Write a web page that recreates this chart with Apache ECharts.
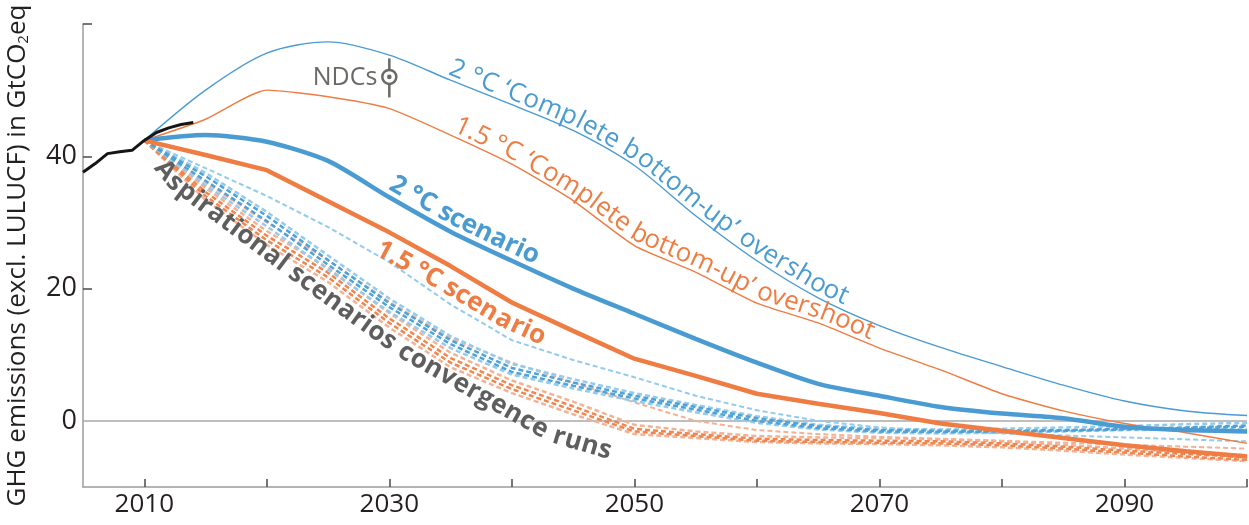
<!DOCTYPE html>
<html><head><meta charset="utf-8">
<script src="https://cdn.jsdelivr.net/npm/echarts@6/dist/echarts.min.js"></script>
<style>html,body{margin:0;padding:0;background:#fff}#c{width:1249px;height:525px}</style>
</head><body><div id="c"></div>
<script>
// ---------------- data ----------------
const years = [2010,2015,2020,2025,2030,2035,2040,2045,2050,2055,2060,2065,2070,2075,2080,2085,2090,2095,2100];
const histYears  = [2005,2006,2007,2008,2009,2010,2011,2012,2013,2014];
const histValues = [37.6,38.9,40.4,40.7,40.9,42.4,43.6,44.3,44.8,45.1];

const overshoot2C  = [42.4,50.0,55.6,57.3,55.3,51.5,47.8,43.9,38.6,31.0,24.2,18.6,14.4,11.1,8.2,5.4,3.0,1.5,0.8];
const overshoot15C = [42.4,45.6,50.0,49.0,47.2,43.2,38.8,33.3,26.5,22.5,17.8,14.8,11.0,7.7,4.1,1.5,-0.4,-1.8,-3.4];
const scenario2C   = [42.4,43.2,42.2,39.3,33.8,28.6,24.2,20.0,16.2,12.4,8.8,5.6,3.8,2.1,1.1,0.4,-0.9,-1.4,-1.6];
const scenario15C  = [42.4,40.2,37.9,33.2,28.5,23.4,17.9,13.6,9.4,6.8,4.1,2.6,1.2,-0.4,-1.5,-2.6,-3.7,-4.6,-5.4];

const convBlueA = [42.4,38.2,34.0,29.3,24.0,17.6,12.2,9.2,6.6,3.8,1.6,0.0,-1.0,-1.5,-1.9,-2.2,-2.5,-2.8,-3.1];
const convBlueB = [42.4,37.5,31.6,25.0,18.5,12.8,8.6,6.3,4.2,2.4,0.7,-0.6,-1.2,-1.3,-1.2,-1.0,-0.8,-0.5,-0.3];
const convBlueC = [42.4,37.0,31.0,24.3,17.8,12.2,8.0,5.8,3.8,2.1,0.4,-0.8,-1.4,-1.5,-1.5,-1.4,-1.2,-1.0,-0.7];
const convBlueD = [42.4,36.3,30.2,23.6,17.2,11.6,7.4,5.3,3.4,1.7,0.0,-1.1,-1.6,-1.7,-1.6,-1.5,-1.3,-1.1,-0.9];
const convBlueE = [42.4,35.6,29.4,22.9,16.5,11.0,7.0,4.9,3.0,1.3,-0.3,-1.3,-1.8,-1.9,-1.8,-1.6,-1.4,-1.3,-1.2];

const convOrA = [42.4,36.0,30.0,24.3,18.0,12.5,8.8,5.8,2.8,0.0,-1.4,-2.0,-2.4,-2.7,-3.0,-3.3,-3.6,-3.9,-4.2];
const convOrB = [42.4,35.2,28.7,23.1,16.3,10.3,6.1,2.9,-0.6,-1.6,-2.3,-2.5,-2.6,-2.8,-3.1,-3.6,-4.2,-4.7,-5.2];
const convOrC = [42.4,34.6,28.0,22.4,15.5,9.5,5.4,2.2,-1.2,-2.0,-2.7,-2.9,-3.0,-3.1,-3.4,-3.9,-4.5,-5.0,-5.5];
const convOrD = [42.4,34.0,27.3,21.7,14.8,8.8,4.8,1.6,-1.6,-2.3,-3.0,-3.2,-3.3,-3.4,-3.7,-4.2,-4.8,-5.4,-5.9];
const convOrE = [42.4,33.4,26.6,21.0,14.1,8.1,4.2,1.0,-2.0,-2.6,-3.2,-3.4,-3.5,-3.7,-4.0,-4.5,-5.1,-5.6,-6.1];

const ndcYear = [2030];
const ndcMid  = [52.0];
const ndcLow  = [48.9];
const ndcHigh = [54.8];

const xTickValues  = [2010,2020,2030,2040,2050,2060,2070,2080,2090,2100];
const xLabelValues = [2010,2030,2050,2070,2090];
const yTickValues  = [20,40,60];
const yLabelValues = [0,20,40];

// ---------------- styling ----------------
const FONT = '"Open Sans", "Noto Sans", sans-serif';
const BLUE = '#4a9bd2', ORANGE = '#ee7c43';
const BLUE_D = '#4fa1d8', BLUE_L = '#93cbec', OR_D = '#ef8650', OR_L = '#f5b193';
const GRAY_TXT = '#5e5e5e';

const pair = (xs, vs) => xs.map((x, i) => [x, vs[i]]);
function dashed(name, vals, color, w) {
  return {name, type:'line', data:pair(years, vals), showSymbol:false, symbol:'none', silent:true, z:2,
    lineStyle:{color, width:w, type:[5,3]}};
}
function solid(name, vals, color, w, z, smooth) {
  return {name, type:'line', data:pair(years, vals), showSymbol:false, symbol:'none', silent:true, z:z,
    smooth:smooth || false, lineStyle:{color, width:w}};
}

const chart = echarts.init(document.getElementById('c'), null, {renderer:'canvas'});

const series = [
  Object.assign(dashed('convBlueA', convBlueA, BLUE_L, 2), {
    markLine:{silent:true, symbol:['none','none'], label:{show:false}, lineStyle:{color:'#a8a8a8', width:1.5, type:'solid'}, data:[{yAxis:0}], z:1}
  }),
  dashed('convOrA', convOrA, OR_L, 2),
  dashed('convOrB', convOrB, OR_L, 2.5),
  dashed('convOrE', convOrE, OR_L, 2.5),
  dashed('convOrC', convOrC, OR_D, 2.5),
  dashed('convOrD', convOrD, OR_D, 2.5),
  dashed('convBlueE', convBlueE, BLUE_L, 2.5),
  dashed('convBlueB', convBlueB, BLUE_L, 2.5),
  dashed('convBlueC', convBlueC, BLUE_D, 2.5),
  dashed('convBlueD', convBlueD, BLUE_D, 2.5),
  solid('overshoot2C', overshoot2C, BLUE, 1.4, 3, 0.3),
  solid('overshoot15C', overshoot15C, ORANGE, 1.4, 3, 0.2),
  solid('scenario2C', scenario2C, BLUE, 4.5, 4, 0.25),
  solid('scenario15C', scenario15C, ORANGE, 4.5, 4, 0),
  {name:'historical', type:'line', data:pair(histYears, histValues), showSymbol:false, symbol:'none', silent:true, z:5,
    lineStyle:{color:'#151515', width:3}},
  {name:'NDCs', type:'custom', silent:true, z:6,
    data: ndcYear.map((y, i) => [y, ndcMid[i], ndcLow[i], ndcHigh[i]]),
    renderItem(params, api) {
      const c = api.coord([api.value(0), api.value(1)]);
      const lo = api.coord([api.value(0), api.value(2)]);
      const hi = api.coord([api.value(0), api.value(3)]);
      const col = '#6b6965';
      return {type:'group', children:[
        {type:'line', shape:{x1:lo[0], y1:lo[1], x2:hi[0], y2:hi[1]}, style:{stroke:col, lineWidth:2.5}},
        {type:'circle', shape:{cx:c[0], cy:c[1], r:7}, style:{fill:'#fff', stroke:col, lineWidth:2.5}},
        {type:'circle', shape:{cx:c[0], cy:c[1], r:2.3}, style:{fill:col}},
        {type:'text', x:c[0]-12, y:c[1]+1, style:{text:'NDCs', fontSize:25, fontFamily:FONT, fill:col, align:'right', verticalAlign:'middle'}}
      ]};
    }
  }
];

chart.setOption({
  animation:false,
  backgroundColor:'#ffffff',
  grid:{left:83, right:2, top:24, bottom:38, outerBoundsMode:'none', containLabel:false},
  xAxis:{type:'value', min:2005, max:2100,
    axisLine:{show:true, onZero:false, lineStyle:{color:'#9c9c9c', width:1.5}},
    axisTick:{show:true, inside:true, length:8, customValues:xTickValues, lineStyle:{color:'#4a4a4a', width:1.5}},
    axisLabel:{customValues:xLabelValues, formatter:v => String(v), fontSize:26, color:'#231f20', fontFamily:FONT, margin:5},
    splitLine:{show:false}},
  yAxis:{type:'value', min:-10, max:60,
    axisLine:{show:true, onZero:false, lineStyle:{color:'#9c9c9c', width:1.5}},
    axisTick:{show:true, inside:true, length:9, customValues:yTickValues, lineStyle:{color:'#4a4a4a', width:1.5}},
    axisLabel:{customValues:yLabelValues, formatter:v => String(v), fontSize:27, color:'#231f20', fontFamily:FONT, margin:6},
    splitLine:{show:false},
    name:'GHG emissions (excl. LULUCF) in GtCO{sub|2}eq', nameLocation:'middle', nameGap:52, nameRotate:90,
    nameTextStyle:{fontSize:26, color:'#231f20', fontFamily:FONT,
      rich:{sub:{fontSize:15, fontFamily:FONT, color:'#231f20', verticalAlign:'bottom', padding:[11,0,0,0]}}}},
  series
});

// ---------------- text along curves ----------------
const mctx = document.createElement('canvas').getContext('2d');
const toPx = pairs => pairs.map(p => chart.convertToPixel({gridIndex:0}, p));
function makePath(pts) {
  const cum = [0];
  for (let i = 1; i < pts.length; i++) cum.push(cum[i-1] + Math.hypot(pts[i][0]-pts[i-1][0], pts[i][1]-pts[i-1][1]));
  return {pts, cum};
}
function pointAt(P, s) {
  const {pts, cum} = P; let i = 1;
  while (i < pts.length - 1 && cum[i] < s) i++;
  const a = pts[i-1], b = pts[i], L = cum[i]-cum[i-1], t = (s - cum[i-1]) / L;
  return [a[0] + (b[0]-a[0])*t, a[1] + (b[1]-a[1])*t];
}
function arcAtX(P, x) {
  const {pts, cum} = P;
  for (let i = 1; i < pts.length; i++) {
    if (x <= pts[i][0]) { const a = pts[i-1], b = pts[i], t = (x-a[0])/(b[0]-a[0]); return cum[i-1] + t*(cum[i]-cum[i-1]); }
  }
  return cum[cum.length-1];
}
function curvedText(text, pairs, startYear, off, size, weight, color, spacing) {
  const P = makePath(toPx(pairs));
  const sx = chart.convertToPixel({gridIndex:0}, [startYear, 0])[0];
  let s = arcAtX(P, sx);
  mctx.font = weight + ' ' + size + 'px ' + FONT;
  const out = [];
  for (const ch of text) {
    const w = mctx.measureText(ch).width + (spacing || 0);
    const a = pointAt(P, s - 4), b = pointAt(P, s + w + 4), m = pointAt(P, s + w/2);
    let tx = b[0]-a[0], ty = b[1]-a[1]; const L = Math.hypot(tx, ty) || 1; tx /= L; ty /= L;
    if (ch !== ' ') out.push({type:'text', x:m[0] + ty*off, y:m[1] - tx*off, rotation:-Math.atan2(ty, tx), silent:true, z:50,
      style:{text:ch, fontSize:size, fontWeight:weight, fontFamily:FONT, fill:color, align:'center', verticalAlign:'middle'}});
    s += w;
  }
  return out;
}

// guide path (in data units) for the grey label, running just under the convergence bundle
const aspGuide = [[2010.5,40.5],[2012.5,36.0],[2022.7,21.8],[2030.9,10.8],[2043.1,-2.0],[2049.0,-5.2],[2060,-8.5]];

const graphics = [].concat(
  curvedText('2 °C ‘Complete bottom-up’ overshoot', pair(years, overshoot2C), 2034.6, 12, 26, 'normal', BLUE, 0.4),
  curvedText('1.5 °C ‘Complete bottom-up’ overshoot', pair(years, overshoot15C), 2035.0, 12, 26, 'normal', ORANGE, 0),
  curvedText('2 °C scenario', pair(years, scenario2C), 2029.6, 14, 26, 'bold', BLUE, 0),
  curvedText('1.5 °C scenario', pair(years, scenario15C), 2029.8, -19, 26, 'bold', ORANGE, 0),
  curvedText('Aspirational scenarios convergence runs', aspGuide, 2011.2, 0, 26, 'bold', GRAY_TXT, 0.4)
);
chart.setOption({graphic: graphics});
</script></body></html>
